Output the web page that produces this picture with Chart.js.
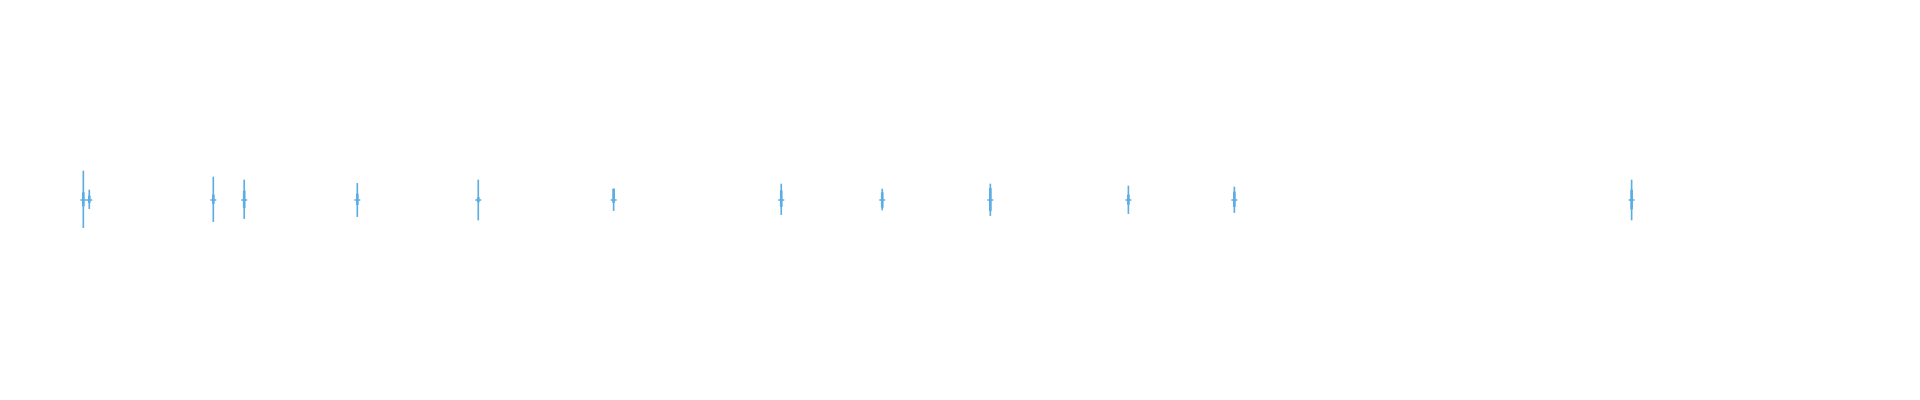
<!DOCTYPE html>
<html>
<head>
<meta charset="utf-8">
<script src="https://cdn.jsdelivr.net/npm/chart.js@4"></script>
<style>
  html, body { margin: 0; padding: 0; background: #fff; }
  #wrap { width: 1920px; height: 400px; }
</style>
</head>
<body>
<div id="wrap"><canvas id="chart"></canvas></div>
<script>
'use strict';

// ── Data ──────────────────────────────────────────────────────────────────────
const positions = [4.34, 4.65, 11.11, 12.72, 18.61, 24.91, 31.96, 40.69, 45.95, 51.58, 58.77, 64.29, 84.98];
const highs     = [14.5, 5.0, 11.5, 10.0, 8.3, 10.0, 5.5, 8.0, 5.5, 8.0, 7.0, 6.5, 10.0];
const lows      = [-13.8, -4.3, -10.8, -9.3, -8.3, -10.0, -5.3, -7.3, -5.0, -7.8, -6.8, -6.3, -10.0];
const bodyTops  = [3.7, 2.0, 2.5, 4.5, 3.0, 1.3, 5.5, 4.7, 3.7, 5.8, 2.5, 4.0, 5.0];
const bodyBots  = [-3.0, -1.3, -1.7, -3.8, -2.3, -1.0, -1.3, -3.3, -3.7, -5.3, -2.2, -3.3, -4.5];
const centers   = [0, 0, 0, 0, 0, 0, 0, 0, 0, 0, 0, 0, 0];

const BLUE = '#5DADE2';

// ── Build datasets ────────────────────────────────────────────────────────────
const wickData = positions.map((x, i) => ({ x: x, y: [lows[i], highs[i]] }));
const bodyData = positions.map((x, i) => ({ x: x, y: [bodyBots[i], bodyTops[i]] }));
const tickData = positions.map((x, i) => ({ x: x, y: centers[i] }));

new Chart(document.getElementById('chart'), {
  type: 'bar',
  data: {
    datasets: [
      {
        label: 'range',
        data: wickData,
        backgroundColor: BLUE,
        barThickness: 1,
        grouped: false,
      },
      {
        label: 'body',
        data: bodyData,
        backgroundColor: BLUE,
        barThickness: 2,
        grouped: false,
      },
      {
        type: 'line',
        label: 'mid',
        data: tickData,
        showLine: false,
        pointStyle: 'line',
        pointRadius: 3,
        pointHoverRadius: 3,
        borderColor: BLUE,
        borderWidth: 1.5,
      },
    ],
  },
  options: {
    responsive: true,
    maintainAspectRatio: false,
    animation: false,
    layout: { padding: 0, autoPadding: false },
    plugins: { legend: { display: false }, tooltip: { enabled: false } },
    scales: {
      x: { type: 'linear', min: 0, max: 100, offset: false, display: false },
      y: { type: 'linear', min: -100, max: 100, display: false },
    },
  },
});
</script>
</body>
</html>
